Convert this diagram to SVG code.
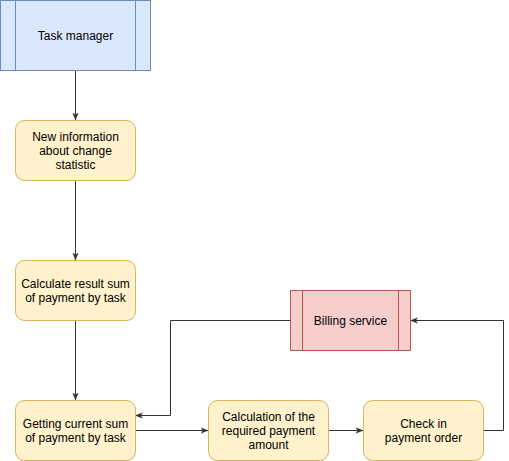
<svg xmlns="http://www.w3.org/2000/svg" width="509" height="461" viewBox="0 0 509 461">
<style>
text{font-family:"Liberation Sans",Arial,sans-serif;font-size:12px;fill:#000;text-anchor:middle}
.y{fill:#fff2cc;stroke:#d6b656}
.b{fill:#dae8fc;stroke:#6c8ebf}
.r{fill:#f8cecc;stroke:#b85450}
.e{fill:none;stroke:#333;stroke-width:1}
</style>
<defs>
<marker id="a" viewBox="0 0 10 10" refX="10" refY="5" markerWidth="7" markerHeight="7" markerUnits="userSpaceOnUse" orient="auto">
<path d="M0,1 L10,5 L0,9 L2.5,5 Z" fill="#333" stroke="#333" stroke-width="0.5"/>
</marker>
</defs>
<rect width="509" height="461" fill="#fff"/>
<g id="connectors">
<path class="e" d="M75.5 70.5V120" marker-end="url(#a)"/>
<path class="e" d="M75.5 180.5V260" marker-end="url(#a)"/>
<path class="e" d="M75.5 320.5V400" marker-end="url(#a)"/>
<path class="e" d="M290 320.5H170.5V415.5H135.5" marker-end="url(#a)"/>
<path class="e" d="M135.5 430.5H208" marker-end="url(#a)"/>
<path class="e" d="M328.5 430.5H363" marker-end="url(#a)"/>
<path class="e" d="M483.5 430.5H503.5V320.5H410.5" marker-end="url(#a)"/>
</g>
<g id="task-manager">
<rect class="b" x="0.5" y="0.5" width="150" height="70"/>
<path class="b" d="M15.5 0.5V70.5M135.5 0.5V70.5"/>
<text x="75.5" y="40">Task manager</text>
</g>
<g id="new-information">
<rect class="y" x="15.5" y="120.5" width="120" height="60" rx="9"/>
<text x="75.5" y="141">New information</text>
<text x="75.5" y="155">about change</text>
<text x="75.5" y="169">statistic</text>
</g>
<g id="calculate-result">
<rect class="y" x="15.5" y="260.5" width="120" height="60" rx="9"/>
<text x="75.5" y="288">Calculate result sum</text>
<text x="75.5" y="302">of payment by task</text>
</g>
<g id="getting-current">
<rect class="y" x="15.5" y="400.5" width="120" height="60" rx="9"/>
<text x="75.5" y="428">Getting current sum</text>
<text x="75.5" y="442">of payment by task</text>
</g>
<g id="calculation-required">
<rect class="y" x="208.5" y="400.5" width="120" height="60" rx="9"/>
<text x="268.5" y="421">Calculation of the</text>
<text x="268.5" y="435">required payment</text>
<text x="268.5" y="449">amount</text>
</g>
<g id="check-in">
<rect class="y" x="363.5" y="400.5" width="120" height="60" rx="9"/>
<text x="423.5" y="428">Check in</text>
<text x="423.5" y="442">payment order</text>
</g>
<g id="billing-service">
<rect class="r" x="290.5" y="290.5" width="120" height="60"/>
<path class="r" d="M302.5 290.5V350.5M398.5 290.5V350.5"/>
<text x="350.5" y="325">Billing service</text>
</g>
</svg>
